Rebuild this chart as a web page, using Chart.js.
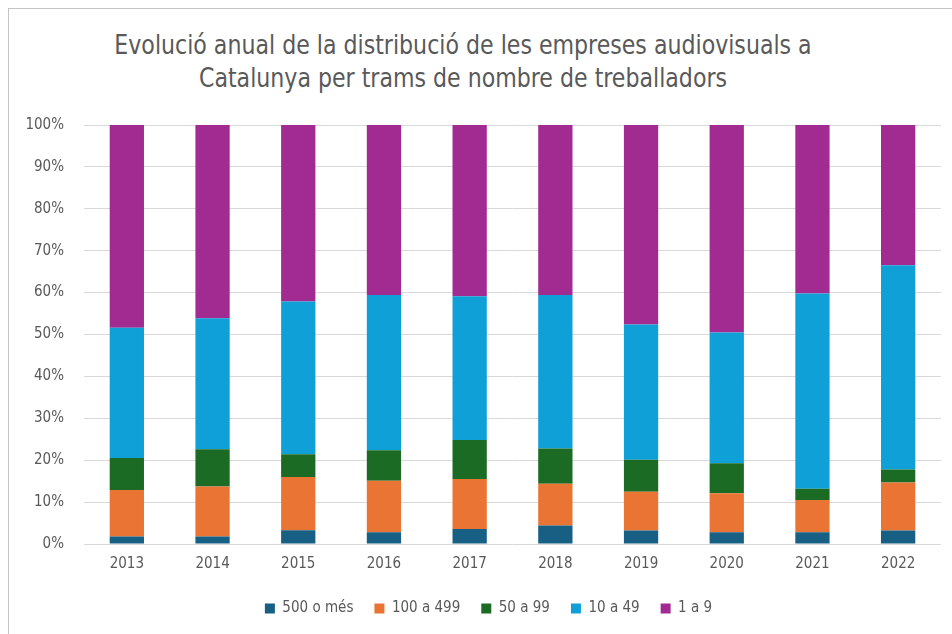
<!DOCTYPE html>
<html>
<head>
<meta charset="utf-8">
<script src="https://cdn.jsdelivr.net/npm/chart.js@4"></script>
<style>
  html, body { margin: 0; padding: 0; background: #fff; }
  #wrap { position: relative; width: 952px; height: 634px; overflow: hidden; }
  #frame {
    position: absolute; left: 8px; top: 8px; width: 960px; height: 640px;
    border-top: 1px solid #c4c4c4; border-left: 1px solid #c4c4c4;
  }
  #title {
    position: absolute; left: 0; top: 28px; width: 926px; text-align: center;
    font-family: "Liberation Sans Narrow", "Arial Narrow", "DejaVu Sans Condensed", sans-serif;
    font-size: 27px; line-height: 33px; color: #595959;
    transform: scaleX(0.91); transform-origin: 463px 0;
  }
  canvas { position: absolute; left: 0; top: 0; }
</style>
</head>
<body>
<div id="wrap">
  <div id="frame"></div>
  <div id="title">Evolució anual de la distribució de les empreses audiovisuals a<br>Catalunya per trams de nombre de treballadors</div>
  <canvas id="chart" width="952" height="634"></canvas>
</div>
<script>
var years = ["2013", "2014", "2015", "2016", "2017", "2018", "2019", "2020", "2021", "2022"];

// percentages per band, bottom to top
var band500 = [1.8, 1.8, 3.3, 2.8, 3.6, 4.4, 3.2, 2.8, 2.8, 3.2];
var band100 = [11.1, 11.9, 12.7, 12.3, 11.9, 10.0, 9.3, 9.3, 7.7, 11.5];
var band50 = [7.6, 8.9, 5.4, 7.3, 9.3, 8.4, 7.6, 7.2, 2.7, 3.1];
var band10 = [31.1, 31.3, 36.5, 37.0, 34.3, 36.6, 32.3, 31.2, 46.6, 48.7];
var band1 = [48.4, 46.1, 42.1, 40.6, 40.9, 40.6, 47.6, 49.5, 40.2, 33.5];

var yTicks = [0, 10, 20, 30, 40, 50, 60, 70, 80, 90, 100];

var narrow = "'Liberation Sans Narrow', 'Arial Narrow', 'DejaVu Sans Condensed', sans-serif";
var textColor = "#595959";

function bar(label, values, color) {
  return {
    label: label,
    data: values,
    backgroundColor: color,
    borderWidth: 0,
    barPercentage: 0.4,
    categoryPercentage: 1.0,
  };
}

// legend sits a little right of the canvas centre in the original
var legendShift = {
  id: "legendShift",
  afterLayout: function (chart) {
    chart.legend.left += 8;
    chart.legend.right += 8;
  },
};

var ctx = document.getElementById("chart");
var myChart = new Chart(ctx, {
  type: "bar",
  data: {
    labels: years,
    datasets: [
      bar("500 o més", band500, "#175f83"),
      bar("100 a 499", band100, "#e97434"),
      bar("50 a 99", band50, "#1b6b25"),
      bar("10 a 49", band10, "#0fa0d8"),
      bar("1 a 9", band1, "#a22b92"),
    ],
  },
  plugins: [legendShift],
  options: {
    responsive: false,
    animation: false,
    layout: { padding: { top: 125, left: 20, right: 11, bottom: 8 } },
    plugins: {
      title: { display: false },
      tooltip: { enabled: false },
      legend: {
        position: "bottom",
        labels: {
          boxWidth: 10,
          boxHeight: 10,
          padding: 21,
          color: textColor,
          font: { family: narrow, size: 15 },
        },
      },
    },
    scales: {
      x: {
        stacked: true,
        grid: { display: false },
        border: { display: false },
        ticks: { color: textColor, padding: 3, font: { family: narrow, size: 15 } },
        afterFit: function (axis) { axis.height = 36; },
      },
      y: {
        stacked: true,
        min: 0,
        max: 100,
        afterBuildTicks: function (axis) {
          axis.ticks = yTicks.map(function (v) { return { value: v }; });
        },
        grid: { color: "#d9d9d9", lineWidth: 1, drawTicks: false },
        border: { display: false },
        ticks: {
          color: textColor,
          padding: 20,
          font: { family: narrow, size: 15 },
          callback: function (v) { return v + "%"; },
        },
        afterFit: function (axis) { axis.width = 64; },
      },
    },
  },
});
</script>
</body>
</html>
